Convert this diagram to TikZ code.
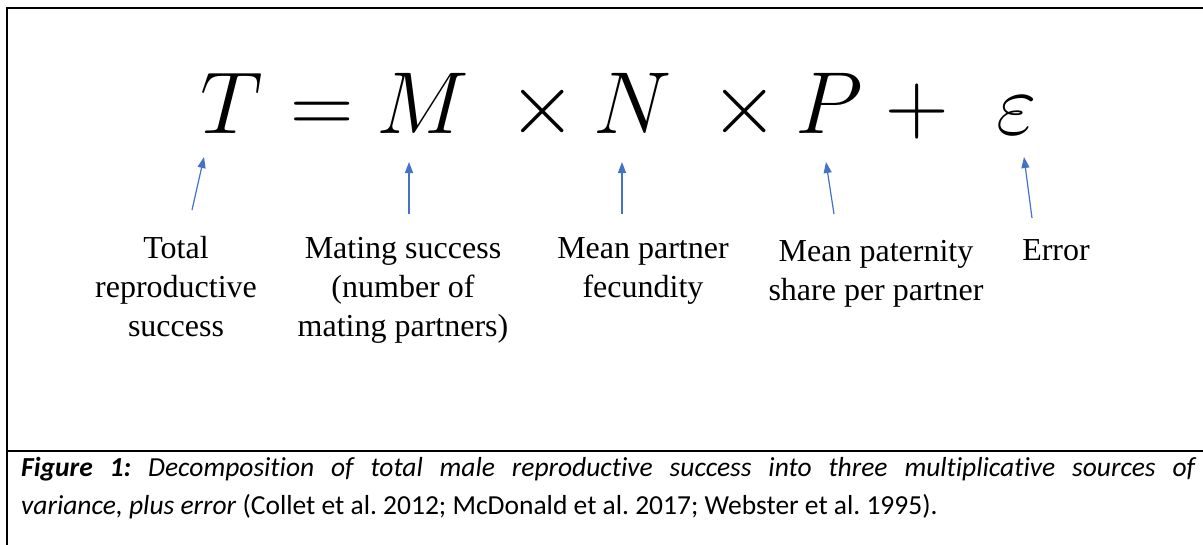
\RequirePackage{fix-cm}
\documentclass[tikz,border=0pt]{standalone}
\usepackage{fontspec}
\setmainfont{Liberation Serif}
\newfontfamily\capfont[Ligatures=NoCommon]{Carlito}
\usetikzlibrary{arrows.meta, positioning}
\definecolor{ArrowBlue}{RGB}{68, 114, 196}
\frenchspacing

\begin{document}
\begin{tikzpicture}[
        x=1pt, y=-1pt,
        sym/.style={inner sep=0pt, anchor=base, font=\fontsize{88}{92}\selectfont},
        lab/.style={inner sep=0pt, anchor=base, align=center, font=\fontsize{32}{39}\selectfont},
        pointer/.style={-{Triangle[length=11pt, width=8pt]}, ArrowBlue, line width=1.2pt},
        frame/.style={line width=2pt, black}
    ]
        \useasboundingbox (0,0) rectangle (1203,544);
        % outer frame and caption rule
        \draw[frame] (7,545) -- (7,8) -- (1205,8);
        \draw[frame] (7,451) -- (1205,451);

        % the equation
        \node[sym] (tsym) at (232,133) {$T$};
        \node[sym] (eqsym) at (322,133) {$=$};
        \node[sym] (msym) at (423,133) {$M$};
        \node[sym] (times1) at (543,133) {$\times$};
        \node[sym] (nsym) at (633,133) {$N$};
        \node[sym] (times2) at (745,133) {$\times$};
        \node[sym] (psym) at (829,133) {$P$};
        \node[sym] (plus) at (917,133) {$+$};
        \node[sym] (esym) at (1017,134) {$\varepsilon$};

        % labels (anchored on the baseline of their last line)
        \node[lab] (tlab) at (176,336) {Total\\ reproductive\\ success};
        \node[lab] (mlab) at (403,336) {Mating success\\ (number of\\ mating partners)};
        \node[lab] (nlab) at (643,297) {Mean partner\\ fecundity};
        \node[lab] (plab) at (876,300) {Mean paternity\\ share per partner};
        \node[lab] (elab) at (1056,260) {Error};

        % arrows
        \coordinate (ttail) at (192,210);
        \coordinate (ttip) at (204,157);
        \coordinate (mtail) at (409,214);
        \coordinate (mtip) at (409,162);
        \coordinate (ntail) at (622,214);
        \coordinate (ntip) at (622,162);
        \coordinate (ptail) at (834,214);
        \coordinate (ptip) at (826,162);
        \coordinate (etail) at (1032,218);
        \coordinate (etip) at (1024,157);
        \draw[pointer] (ttail) -- (ttip);
        \draw[pointer] (mtail) -- (mtip);
        \draw[pointer] (ntail) -- (ntip);
        \draw[pointer] (ptail) -- (ptip);
        \draw[pointer] (etail) -- (etip);

        % caption
        \node[inner sep=0pt, anchor=north west, text width=1174pt, align=justify,
              font=\capfont\fontsize{27.5}{38}\selectfont] (caption) at (21,457)
            {\textbf{\textit{Figure 1:}} \textit{Decomposition of total male reproductive success into three multiplicative sources of\linebreak variance, plus error} (Collet et al. 2012; McDonald et al. 2017; Webster et al. 1995).};
    \end{tikzpicture}
\end{document}
